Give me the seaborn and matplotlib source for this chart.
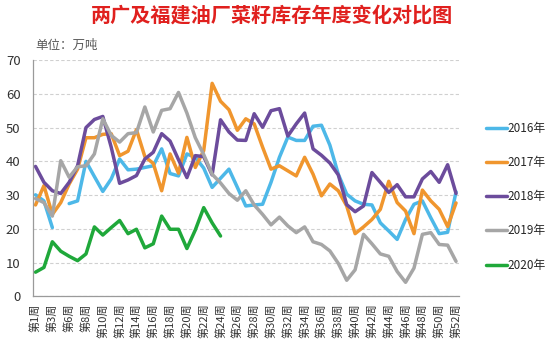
import numpy as np
import pandas as pd
import matplotlib
matplotlib.use("Agg")
import matplotlib.pyplot as plt
import seaborn as sns

weeks = [1, 2, 3, 4] + list(range(6, 53))
week_labels = [f"第{w}周" for w in weeks]

y2016 = [30.1, 28.3, 20.4, np.nan, 27.5, 28.3, 40.0, 35.5, 31.1, 34.8, 40.7, 37.5, 37.7, 38.2, 38.7,
         43.7, 36.4, 35.7, 42.2, 41.2, 38.0, 32.3, 35.0, 37.7, 32.3, 26.8, 27.1, 27.3, 33.8, 41.2,
         47.2, 46.2, 46.2, 50.4, 50.7, 44.8, 36.2, 30.3, 28.3, 27.3, 27.1, 21.8, 19.4, 16.9, 22.8,
         27.3, 28.3, 23.3, 18.6, 19.0, 31.0]
y2017 = [27.1, 32.8, 24.3, 27.8, 33.3, 37.7, 47.0, 47.0, 48.0, 48.2, 41.7, 43.0, 49.4, 41.4, 39.4,
         31.3, 42.2, 36.5, 47.1, 38.2, 43.2, 63.1, 57.8, 55.3, 49.2, 52.6, 51.1, 44.2, 37.7, 38.7,
         37.2, 35.7, 41.2, 36.2, 29.8, 33.3, 31.3, 26.8, 18.6, 20.6, 22.8, 25.8, 34.1, 27.8, 25.3,
         18.6, 31.5, 28.3, 25.8, 20.7, 27.7]
y2018 = [38.5, 33.8, 31.3, 30.5, 33.8, 38.7, 50.0, 52.4, 53.3, 44.2, 33.5, 34.5, 35.8, 40.7, 42.7,
         48.2, 46.0, 40.5, 35.2, 41.7, 41.4, 36.0, 52.3, 48.7, 46.3, 46.2, 54.1, 50.1, 55.0, 55.6,
         47.5, 51.1, 54.3, 43.7, 41.8, 39.5, 36.0, 27.2, 25.1, 26.8, 36.7, 33.8, 30.8, 33.1, 29.5,
         29.5, 34.8, 37.0, 33.8, 39.0, 30.5]
y2019 = [29.0, 27.8, 23.8, 40.2, 35.3, 38.4, 38.7, 42.2, 52.6, 47.7, 45.7, 48.2, 48.5, 56.1, 48.7,
         55.1, 55.6, 60.4, 54.3, 47.0, 42.0, 36.2, 33.6, 30.5, 28.5, 31.3, 27.1, 24.3, 21.2, 23.5,
         20.9, 18.9, 20.6, 16.2, 15.4, 13.5, 9.8, 4.8, 7.9, 18.4, 15.6, 12.6, 11.9, 7.4, 4.2,
         8.4, 18.4, 18.9, 15.4, 15.2, 10.4]
y2020 = [7.2, 8.6, 16.2, 13.4, 11.9, 10.6, 12.6, 20.6, 18.2, 20.4, 22.5, 18.6, 19.9, 14.4, 15.6,
         23.8, 19.9, 19.9, 14.2, 19.7, 26.3, 21.8, 17.9]

series = {"2016年": y2016, "2017年": y2017, "2018年": y2018, "2019年": y2019, "2020年": y2020}
colors = ["#4DB8E8", "#F0962E", "#6C4C9C", "#A6A6A6", "#1FA83A"]

rows = []
for name, vals in series.items():
    seg = 0
    for i, v in enumerate(vals):
        if v is None or (isinstance(v, float) and np.isnan(v)):
            seg += 1
            continue
        rows.append({"idx": i, "value": v, "year": name, "seg": f"{name}-{seg}"})
df = pd.DataFrame(rows)

sns.set_theme(style="white")
plt.rcParams["font.family"] = ["Noto Sans CJK SC", "DejaVu Sans"]
plt.rcParams["axes.unicode_minus"] = False

fig = plt.figure(figsize=(5.5, 3.45), dpi=100)
ax = fig.add_axes([0.06, 0.1406, 0.7745, 0.6854])

sns.lineplot(data=df, x="idx", y="value", hue="year", units="seg", estimator=None,
             palette=colors, linewidth=2.5, ax=ax, legend=True)

ax.set_xlim(-0.3, 50.35)
ax.set_ylim(0, 70)
ax.set_yticks(range(0, 71, 10))
ax.set_yticklabels([str(v) for v in range(0, 71, 10)], fontsize=9.5, color="#333333")
ax.set_xticks(range(len(weeks)))
ax.set_xticklabels([lab if i % 2 == 0 else "" for i, lab in enumerate(week_labels)],
                   rotation=90, fontsize=8, color="#333333")
ax.set_xlabel("")
ax.set_ylabel("")
ax.yaxis.grid(True, linestyle=(0, (3, 2)), color="#D0D0D0", linewidth=0.8)
ax.xaxis.grid(False)
ax.set_axisbelow(True)
for s in ["top", "right"]:
    ax.spines[s].set_visible(False)
for s in ["left", "bottom"]:
    ax.spines[s].set_color("#9A9A9A")
    ax.spines[s].set_linewidth(0.9)
ax.tick_params(axis="x", which="major", direction="out", length=3, width=0.8, color="#9A9A9A", pad=2)
ax.tick_params(axis="y", which="major", direction="out", length=3, width=0.8, color="#9A9A9A", pad=6)

handles, labels = ax.get_legend_handles_labels()
ax.legend(handles, labels, loc="center left", bbox_to_anchor=(0.872, 0.43),
          bbox_transform=fig.transFigure, frameon=False, fontsize=8.5,
          handlelength=1.8, handletextpad=0.1, labelspacing=1.8, borderpad=0)

fig.text(0.495, 0.955, "两广及福建油厂菜籽库存年度变化对比图", ha="center", va="center",
         fontsize=14.5, fontweight="bold", color="#E0201E")
fig.text(0.064, 0.868, "单位：万吨", ha="left", va="center", fontsize=9, color="#595959")

fig.savefig("out.png", dpi=100)
